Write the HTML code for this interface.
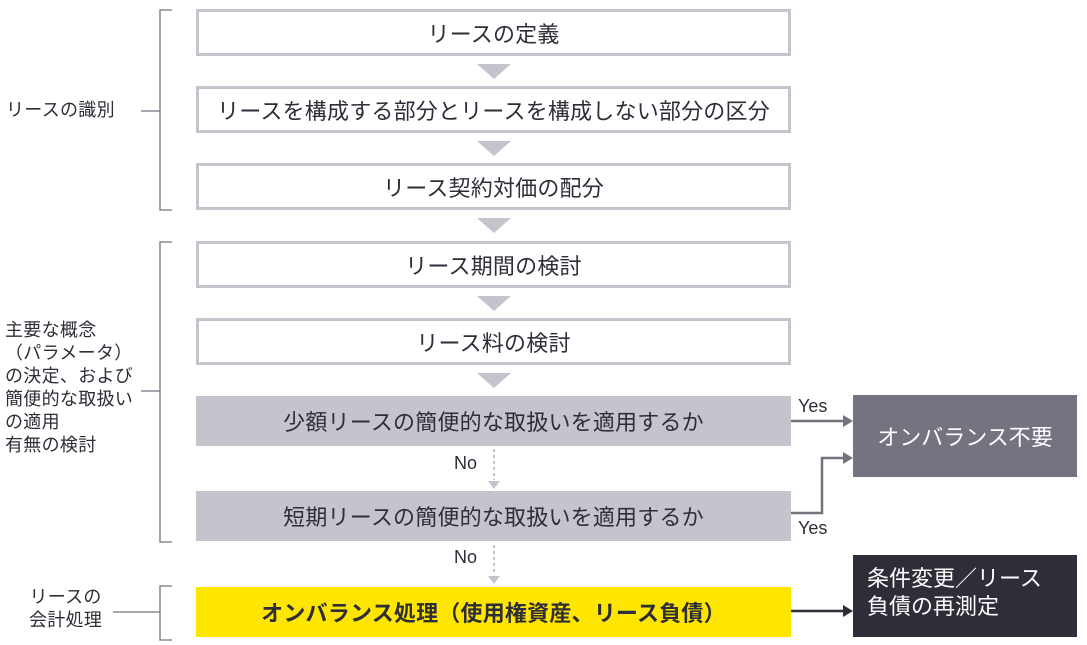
<!DOCTYPE html>
<html><head><meta charset="utf-8"><style>
body{margin:0;width:1087px;height:645px;background:#fff;position:relative;overflow:hidden;font-family:"Liberation Sans","Noto Sans CJK JP",sans-serif;color:#2e2e38}
.b{position:absolute;left:196px;width:595px;box-sizing:border-box;display:flex;align-items:center;justify-content:center;font-size:22px;letter-spacing:0.2px}
.w{border:3px solid #c4c4cd;background:#fff}
.g{background:#c4c4cd}
.l{position:absolute;font-size:18px;line-height:23px;color:#2e2e38;letter-spacing:0.3px}
.t{position:absolute;font-size:18px;color:#2e2e38}
</style></head><body>
<svg width="1087" height="645" style="position:absolute;left:0;top:0">
<g fill="#c4c4cd">
<polygon points="477,64 511,64 494,79"/>
<polygon points="477,141 511,141 494,156"/>
<polygon points="477,218 511,218 494,233"/>
<polygon points="477,296 511,296 494,311"/>
<polygon points="477,373 511,373 494,388"/>
<polygon points="488,481 500,481 494,489"/>
<polygon points="488,576 500,576 494,584"/>
</g>
<g stroke="#c4c4cd" stroke-width="2" stroke-dasharray="3,3"><line x1="494" y1="449" x2="494" y2="480"/><line x1="494" y1="545" x2="494" y2="575"/></g>
<g stroke="#747480" stroke-width="1.3" fill="none">
<polyline points="172,10 160,10 160,210 172,210"/><line x1="141" y1="111" x2="160" y2="111"/>
<polyline points="172,242 160,242 160,542 172,542"/><line x1="141" y1="391" x2="160" y2="391"/>
<polyline points="172,586 160,586 160,640 172,640"/><line x1="113" y1="612" x2="160" y2="612"/>
</g>
<g stroke="#747480" stroke-width="2.5" fill="none"><line x1="791" y1="421" x2="845" y2="421"/><polyline points="791,513 822,513 822,458 845,458"/></g>
<g fill="#747480"><polygon points="853,421 843,415 843,427"/><polygon points="853,458 843,452 843,464"/></g>
<line x1="791" y1="611" x2="845" y2="611" stroke="#2e2e38" stroke-width="2.5"/>
<polygon points="853,611 843,605 843,617" fill="#2e2e38"/>
</svg>
<div class="b w" style="top:9px;height:47px">リースの定義</div>
<div class="b w" style="top:86px;height:47px">リースを構成する部分とリースを構成しない部分の区分</div>
<div class="b w" style="top:163px;height:47px">リース契約対価の配分</div>
<div class="b w" style="top:241px;height:47px">リース期間の検討</div>
<div class="b w" style="top:318px;height:47px">リース料の検討</div>
<div class="b g" style="top:396px;height:50px">少額リースの簡便的な取扱いを適用するか</div>
<div class="b g" style="top:491px;height:50px">短期リースの簡便的な取扱いを適用するか</div>
<div class="b" style="top:587px;height:50px;background:#ffe600;font-weight:bold">オンバランス処理（使用権資産、リース負債）</div>
<div style="position:absolute;left:853px;top:395px;width:224px;height:82px;background:#747480;color:#fff;font-size:22px;display:flex;align-items:center;justify-content:center">オンバランス不要</div>
<div style="position:absolute;left:853px;top:555px;width:224px;height:82px;background:#2e2e38;color:#fff;font-size:22px;line-height:28px;padding:10px 0 0 14px;box-sizing:border-box">条件変更／リース<br>負債の再測定</div>
<div class="l" style="left:6px;top:99px">リースの識別</div>
<div class="l" style="left:5px;top:319px">主要な概念<br>（パラメータ）<br>の決定、および<br>簡便的な取扱い<br>の適用<br>有無の検討</div>
<div class="l" style="left:29px;top:586px;text-align:center">リースの<br>会計処理</div>
<div class="t" style="left:798px;top:396px">Yes</div>
<div class="t" style="left:798px;top:518px">Yes</div>
<div class="t" style="left:454px;top:453px">No</div>
<div class="t" style="left:454px;top:547px">No</div>
</body></html>
